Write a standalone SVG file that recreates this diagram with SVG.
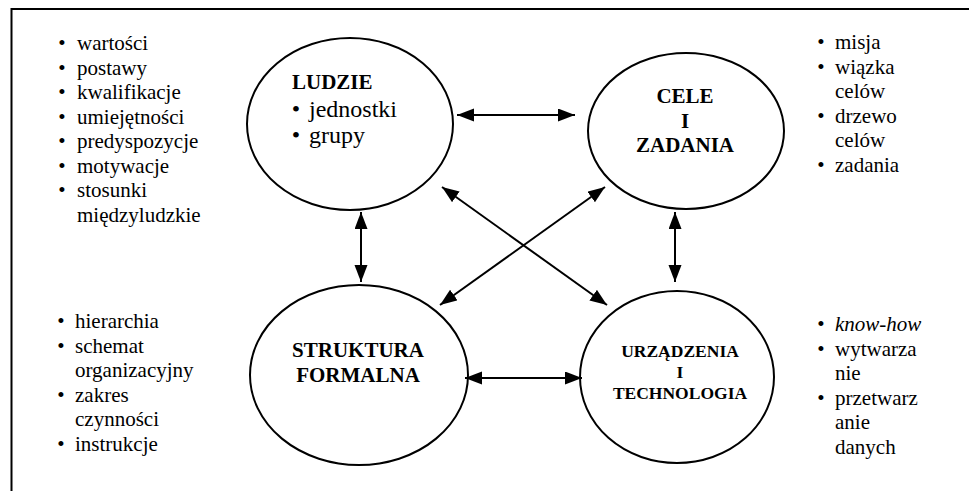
<svg xmlns="http://www.w3.org/2000/svg" width="969" height="491" viewBox="0 0 969 491">
<defs>
<style>
.t{font-family:"Liberation Serif","Times New Roman",serif;font-size:21px;fill:#000}
.b{font-family:"Liberation Serif","Times New Roman",serif;font-weight:bold;fill:#000;text-anchor:middle}
.n{fill:#fff;stroke:#000;stroke-width:2}
.c{stroke:#000;stroke-width:2;fill:none;marker-start:url(#ah);marker-end:url(#ah)}
</style>
<marker id="ah" markerUnits="userSpaceOnUse" markerWidth="18" markerHeight="14" refX="17" refY="6.5" orient="auto-start-reverse" viewBox="0 0 18 14">
<path d="M0,0 L17,6.5 L0,13 z" fill="#000"/>
</marker>
</defs>
<rect width="969" height="491" fill="#fff"/>
<path d="M11.5,491 V9 H969" fill="none" stroke="#000" stroke-width="2"/>

<g id="list-ludzie" class="t">
<text x="62" y="50" text-anchor="middle">•</text><text x="77" y="50">wartości</text>
<text x="62" y="74.5" text-anchor="middle">•</text><text x="77" y="74.5">postawy</text>
<text x="62" y="99" text-anchor="middle">•</text><text x="77" y="99">kwalifikacje</text>
<text x="62" y="123.5" text-anchor="middle">•</text><text x="77" y="123.5">umiejętności</text>
<text x="62" y="148" text-anchor="middle">•</text><text x="77" y="148">predyspozycje</text>
<text x="62" y="172.5" text-anchor="middle">•</text><text x="77" y="172.5">motywacje</text>
<text x="62" y="197" text-anchor="middle">•</text><text x="77" y="197">stosunki</text>
<text x="77" y="221.5">międzyludzkie</text>
</g>

<g id="list-cele" class="t">
<text x="821" y="49" text-anchor="middle">•</text><text x="835" y="49">misja</text>
<text x="821" y="73.5" text-anchor="middle">•</text><text x="835" y="73.5">wiązka</text>
<text x="835" y="98">celów</text>
<text x="821" y="122.5" text-anchor="middle">•</text><text x="835" y="122.5">drzewo</text>
<text x="835" y="147">celów</text>
<text x="821" y="171.5" text-anchor="middle">•</text><text x="835" y="171.5">zadania</text>
</g>

<g id="list-struktura" class="t">
<text x="61" y="328" text-anchor="middle">•</text><text x="75" y="328">hierarchia</text>
<text x="61" y="352.5" text-anchor="middle">•</text><text x="75" y="352.5">schemat</text>
<text x="75" y="377">organizacyjny</text>
<text x="61" y="401.5" text-anchor="middle">•</text><text x="75" y="401.5">zakres</text>
<text x="75" y="426">czynności</text>
<text x="61" y="450.5" text-anchor="middle">•</text><text x="75" y="450.5">instrukcje</text>
</g>

<g id="list-urzadzenia" class="t">
<text x="821" y="331" text-anchor="middle">•</text><text x="835" y="331" font-style="italic">know-how</text>
<text x="821" y="355.5" text-anchor="middle">•</text><text x="835" y="355.5">wytwarza</text>
<text x="835" y="380">nie</text>
<text x="821" y="404.5" text-anchor="middle">•</text><text x="835" y="404.5">przetwarz</text>
<text x="835" y="429">anie</text>
<text x="835" y="453.5">danych</text>
</g>

<g id="ludzie">
<ellipse class="n" cx="350" cy="124" rx="103" ry="86"/>
<text class="b" x="292" y="89" font-size="21" style="text-anchor:start">LUDZIE</text>
<g class="t" style="font-size:24px">
<text x="296" y="117" text-anchor="middle">•</text>
<text x="309" y="117">jednostki</text>
<text x="296" y="143" text-anchor="middle">•</text>
<text x="309" y="143">grupy</text>
</g>
</g>

<g id="cele">
<ellipse class="n" cx="686" cy="131" rx="98" ry="78"/>
<text class="b" x="685" y="103" font-size="21">CELE</text>
<text class="b" x="685" y="127.5" font-size="21">I</text>
<text class="b" x="685" y="152" font-size="21">ZADANIA</text>
</g>

<g id="struktura">
<ellipse class="n" cx="359" cy="375" rx="109" ry="90"/>
<text class="b" x="358" y="357" font-size="21">STRUKTURA</text>
<text class="b" x="358" y="382" font-size="21">FORMALNA</text>
</g>

<g id="urzadzenia">
<ellipse class="n" cx="677" cy="377" rx="97" ry="86"/>
<text class="b" x="680" y="357" font-size="17.5">URZĄDZENIA</text>
<text class="b" x="680" y="378" font-size="17.5">I</text>
<text class="b" x="680" y="399" font-size="17.5">TECHNOLOGIA</text>
</g>

<g id="connectors">
<path class="c" d="M457,115 H575"/>
<path class="c" d="M361,212 V282"/>
<path class="c" d="M675,212 V282"/>
<path class="c" d="M442,187 L607,305"/>
<path class="c" d="M605,187 L440,305"/>
<path class="c" d="M465,378 H582"/>
</g>
</svg>
